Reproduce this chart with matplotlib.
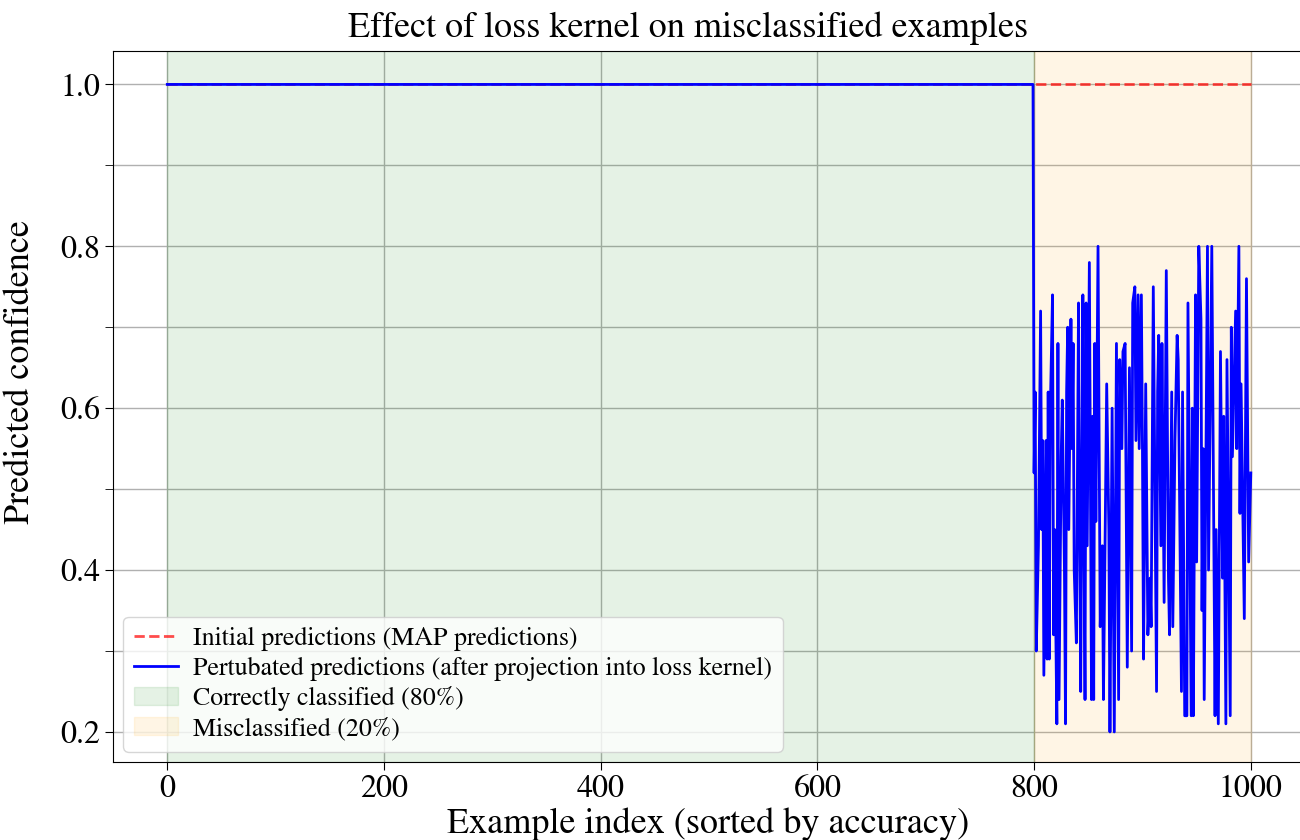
import numpy as np
import matplotlib
matplotlib.use("Agg")
import matplotlib.pyplot as plt
from matplotlib.ticker import MultipleLocator

plt.rcParams['font.family'] = ['STIXGeneral', 'DejaVu Serif']
plt.rcParams['mathtext.fontset'] = 'stix'

# 样本数量与分界
n_total = 1000
n_correct = 800

# 误分类样本的扰动后置信度
mis_idx = [800, 801, 802, 804, 806, 807, 808, 809, 811, 812, 813, 814, 815, 817, 818,
           819, 821, 822, 823, 825, 826, 828, 829, 830, 831, 832, 834, 835, 836, 837,
           839, 841, 842, 843, 845, 846, 847, 848, 849, 851, 853, 854, 855, 856, 857,
           859, 861, 863, 864, 867, 869, 870, 872, 874, 876, 878, 879, 881, 882, 884,
           886, 888, 890, 891, 893, 894, 896, 897, 899, 900, 901, 903, 905, 907, 908,
           910, 913, 914, 915, 917, 918, 920, 922, 924, 925, 927, 928, 930, 932, 933,
           936, 937, 939, 941, 942, 945, 946, 947, 949, 950, 952, 954, 955, 956, 957,
           960, 961, 964, 967, 968, 970, 972, 974, 975, 977, 978, 981, 982, 983, 986,
           987, 989, 990, 991, 994, 995, 996, 998, 1000]
mis_conf = [0.52, 0.62, 0.30, 0.43, 0.72, 0.45, 0.56, 0.27, 0.56, 0.29, 0.62, 0.29, 0.60, 0.74, 0.32,
            0.45, 0.21, 0.68, 0.24, 0.54, 0.61, 0.40, 0.21, 0.62, 0.70, 0.45, 0.71, 0.55, 0.68, 0.40,
            0.31, 0.73, 0.45, 0.25, 0.74, 0.45, 0.24, 0.73, 0.43, 0.78, 0.24, 0.59, 0.24, 0.68, 0.46,
            0.80, 0.33, 0.43, 0.24, 0.63, 0.45, 0.20, 0.60, 0.20, 0.68, 0.24, 0.66, 0.55, 0.67, 0.68,
            0.28, 0.65, 0.30, 0.73, 0.75, 0.56, 0.74, 0.55, 0.74, 0.55, 0.29, 0.63, 0.32, 0.39, 0.33,
            0.75, 0.25, 0.62, 0.69, 0.43, 0.68, 0.36, 0.77, 0.39, 0.32, 0.62, 0.33, 0.56, 0.69, 0.66,
            0.25, 0.62, 0.22, 0.22, 0.73, 0.22, 0.60, 0.22, 0.74, 0.41, 0.80, 0.71, 0.35, 0.55, 0.24,
            0.80, 0.40, 0.80, 0.22, 0.45, 0.21, 0.67, 0.39, 0.59, 0.21, 0.66, 0.22, 0.70, 0.54, 0.72,
            0.55, 0.80, 0.47, 0.63, 0.34, 0.55, 0.76, 0.41, 0.52]

# 正确分类样本的置信度均为 1.0
x_correct = [0, n_correct - 1]
conf_correct = [1.0, 1.0]

x_pert = x_correct + mis_idx
conf_pert = conf_correct + mis_conf

fig = plt.figure(figsize=(13, 8.4), dpi=100)
ax = fig.add_axes([0.087, 0.093, 0.916, 0.846])

ax.axvspan(0, n_correct, color='green', alpha=0.1, label='Correctly classified (80%)')
ax.axvspan(n_correct, n_total, color='orange', alpha=0.1, label='Misclassified (20%)')

ax.plot([0, n_total], [1.0, 1.0], '--', color='red', alpha=0.7, linewidth=2,
        label='Initial predictions (MAP predictions)')
ax.plot(x_pert, conf_pert, color='blue', linewidth=2,
        label='Pertubated predictions (after projection into loss kernel)')

ax.set_xlim(-50, 1049)
ax.set_ylim(0.163, 1.041)
ax.xaxis.set_major_locator(MultipleLocator(200))
ax.yaxis.set_major_locator(MultipleLocator(0.2))
ax.yaxis.set_minor_locator(MultipleLocator(0.1))
ax.tick_params(axis='both', which='major', labelsize=23, length=6)
ax.tick_params(axis='y', which='minor', length=6)
ax.grid(True, which='both', color='#b0b0b0', linewidth=1)
ax.set_axisbelow(True)

ax.set_title('Effect of loss kernel on misclassified examples', fontsize=26, pad=10, x=0.483)
ax.set_xlabel('Example index (sorted by accuracy)', fontsize=26, labelpad=2)
ax.set_ylabel('Predicted confidence', fontsize=26)
ax.yaxis.set_label_coords(-0.064, 0.548)

handles, labels = ax.get_legend_handles_labels()
order = [2, 3, 0, 1]
ax.legend([handles[i] for i in order], [labels[i] for i in order],
          loc='lower left', fontsize=18.6, framealpha=0.8, labelspacing=0.22,
          borderaxespad=0.4, handlelength=1.7, handletextpad=0.6)

fig.savefig('out.png', dpi=100)
